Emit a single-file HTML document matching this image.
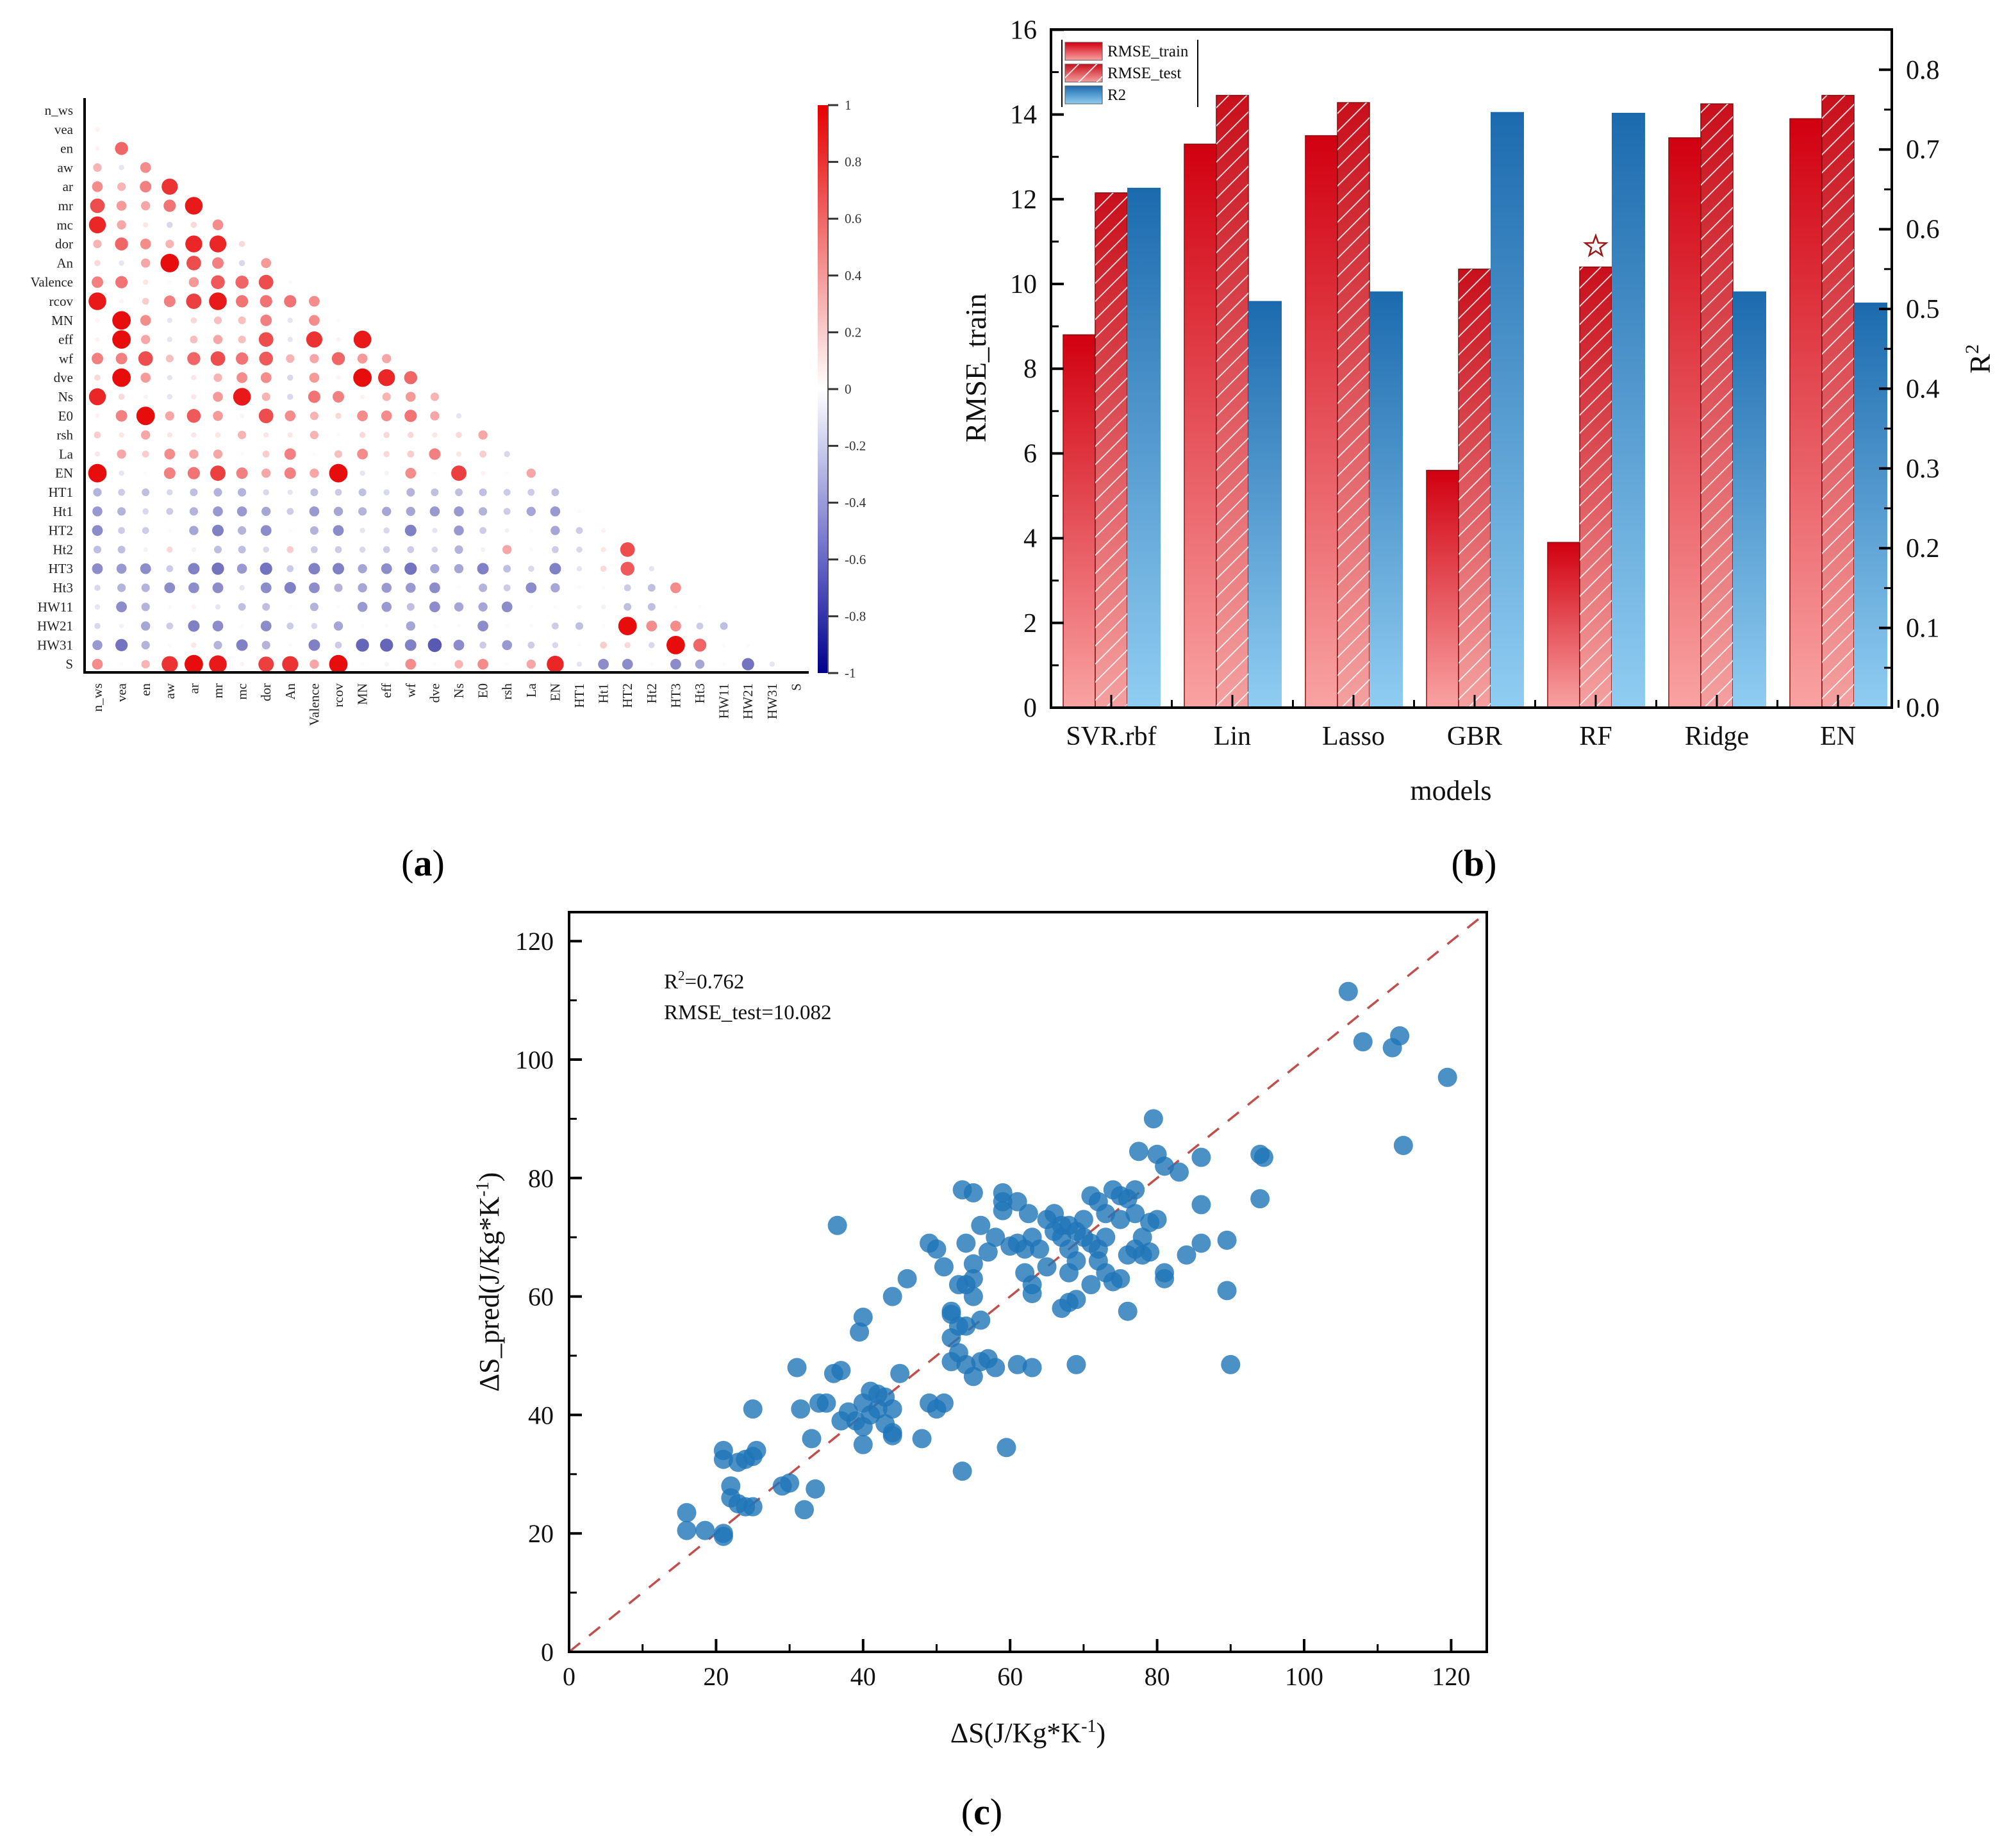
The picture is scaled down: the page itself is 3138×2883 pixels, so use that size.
<!DOCTYPE html>
<html><head><meta charset="utf-8"><style>
html,body{margin:0;padding:0;background:#fff;}
svg{display:block;font-family:"Liberation Serif",serif;}
</style></head><body>
<svg id="fig" xmlns="http://www.w3.org/2000/svg" width="3138" height="2883" viewBox="0 0 3138 2883">
<defs>
<linearGradient id="gTrain" x1="0" y1="0" x2="0" y2="1"><stop offset="0" stop-color="#d10010"/><stop offset="1" stop-color="#f9a3a3"/></linearGradient>
<linearGradient id="gTest" x1="0" y1="0" x2="0" y2="1"><stop offset="0" stop-color="#c8101c"/><stop offset="1" stop-color="#f4a0a0"/></linearGradient>
<linearGradient id="gR2" x1="0" y1="0" x2="0" y2="1"><stop offset="0" stop-color="#1c6aae"/><stop offset="1" stop-color="#90cdf2"/></linearGradient>
<linearGradient id="gCbar" x1="0" y1="0" x2="0" y2="1"><stop offset="0" stop-color="#e60000"/><stop offset="0.5" stop-color="#ffffff"/><stop offset="0.8" stop-color="#6868c8"/><stop offset="1" stop-color="#00008b"/></linearGradient>
<pattern id="hatch" patternUnits="userSpaceOnUse" width="20" height="20" patternTransform="rotate(45)">
<line x1="0" y1="0" x2="0" y2="20" stroke="#ffffff" stroke-width="3.5" opacity="0.9"/>
</pattern>
</defs>
<g id="panelA"></g>
<g id="panelB"></g>
<g id="panelC"></g>
<text x="660" y="1366" font-size="58" text-anchor="middle">(<tspan font-weight="bold">a</tspan>)</text>
<text x="2300" y="1366" font-size="58" text-anchor="middle">(<tspan font-weight="bold">b</tspan>)</text>
<text x="1532" y="2846" font-size="58" text-anchor="middle">(<tspan font-weight="bold">c</tspan>)</text>
</svg>
<script>
const NS = "http://www.w3.org/2000/svg";
function mk(parent, tag, attrs, text) {
  const e = document.createElementNS(NS, tag);
  for (const k in attrs) e.setAttribute(k, attrs[k]);
  if (text !== undefined) e.textContent = text;
  parent.appendChild(e);
  return e;
}

/* ---------- Panel A data ---------- */
const varNames = ['n_ws','vea','en','aw','ar','mr','mc','dor','An','Valence','rcov','MN','eff','wf','dve','Ns','E0','rsh','La','EN','HT1','Ht1','HT2','Ht2','HT3','Ht3','HW11','HW21','HW31','S'];
const corrRows = [
 [],
 [0.05],
 [0.05,0.6],
 [0.3,-0.1,0.45],
 [0.45,0.3,0.5,0.8],
 [0.7,0.4,0.35,0.55,0.9],
 [0.85,0.35,0.1,-0.15,0.15,0.45],
 [0.3,0.6,0.45,0.3,0.85,0.85,0.15],
 [0.15,-0.1,0.35,0.95,0.7,0.5,-0.15,0.4],
 [0.5,0.55,0.1,0.02,0.4,0.65,0.6,0.7,0.02],
 [0.9,0.05,0.2,0.5,0.75,0.9,0.55,0.55,0.55,0.45],
 [0.05,0.95,0.45,-0.1,0.15,0.25,0.25,0.5,-0.1,0.45,0.02],
 [0.05,0.95,0.35,-0.1,0.25,0.35,0.25,0.7,-0.1,0.8,0.05,0.9],
 [0.5,0.5,0.7,0.25,0.6,0.7,0.55,0.65,0.3,0.35,0.6,0.4,0.35],
 [0.15,0.95,0.4,-0.1,0.1,0.3,0.45,0.45,-0.15,0.4,0.05,0.95,0.85,0.6],
 [0.85,0.15,0.05,-0.1,0.1,0.4,0.9,0.3,-0.15,0.55,0.5,0.05,0.3,0.4,0.3],
 [0.05,0.5,0.95,0.35,0.65,0.4,0.05,0.7,0.45,0.3,0.15,0.45,0.45,0.55,0.35,-0.1],
 [0.2,0.1,0.35,0.1,0.1,0.1,0.3,0.1,0.1,0.3,0.02,0.15,0.15,0.15,0.1,0.15,0.35],
 [0.1,0.35,0.2,0.45,0.35,0.35,0.02,0.2,0.5,0.02,0.25,0.45,0.15,0.2,0.5,0.1,0.2,-0.15],
 [0.95,-0.1,0.02,0.5,0.55,0.75,0.5,0.35,0.5,0.35,0.95,-0.1,0.05,0.45,0.02,0.75,0.05,0.02,0.35],
 [-0.3,-0.2,-0.25,-0.15,-0.25,-0.3,-0.3,-0.15,-0.1,-0.25,-0.2,-0.25,-0.15,-0.3,-0.25,-0.25,-0.25,-0.2,-0.2,-0.25],
 [-0.4,-0.3,-0.15,-0.2,-0.3,-0.4,-0.4,-0.35,-0.2,-0.4,-0.35,-0.3,-0.35,-0.35,-0.4,-0.4,-0.3,-0.2,-0.35,-0.4,0.02],
 [-0.45,-0.2,-0.2,0.02,-0.35,-0.5,-0.3,-0.45,0.02,-0.3,-0.45,-0.1,-0.15,-0.5,-0.1,-0.4,-0.2,-0.05,0.02,-0.35,-0.2,0.05],
 [-0.25,-0.25,-0.05,0.15,-0.05,-0.25,-0.25,-0.15,0.2,-0.2,-0.2,-0.15,-0.2,-0.2,-0.15,-0.3,-0.05,0.35,0.02,-0.2,-0.15,0.1,0.7],
 [-0.45,-0.4,-0.45,-0.2,-0.5,-0.55,-0.4,-0.55,-0.2,-0.5,-0.5,-0.35,-0.45,-0.55,-0.35,-0.35,-0.5,-0.25,-0.15,-0.5,-0.1,0.15,0.65,-0.1],
 [-0.15,-0.3,-0.3,-0.45,-0.45,-0.45,-0.1,-0.45,-0.5,-0.45,-0.3,-0.35,-0.4,-0.4,-0.45,0.02,-0.3,-0.2,-0.45,-0.35,0.02,0.02,-0.2,-0.25,0.45],
 [-0.1,-0.45,-0.3,0.02,0.05,-0.1,-0.25,-0.25,0.02,-0.3,0.02,-0.4,-0.4,-0.25,-0.45,-0.35,-0.35,-0.45,0.02,0.02,-0.05,-0.05,-0.25,-0.25,0.02,0.02],
 [-0.15,-0.05,-0.35,-0.2,-0.5,-0.45,0.02,-0.45,-0.2,-0.15,-0.35,0.02,0.02,-0.35,0.02,0.02,-0.45,0.02,0.02,-0.2,-0.25,0.02,0.95,0.45,0.45,-0.2,-0.25],
 [-0.4,-0.55,-0.3,0.02,0.1,-0.3,-0.5,-0.3,0.02,-0.5,-0.2,-0.6,-0.6,-0.5,-0.65,-0.45,-0.2,-0.4,-0.2,-0.15,0.02,0.2,0.15,-0.15,0.95,0.6,0.02,0.02],
 [0.45,0.02,0.3,0.8,0.95,0.9,0.05,0.75,0.8,0.35,0.95,0.02,0.05,0.45,0.02,0.3,0.45,0.02,0.35,0.85,-0.1,-0.45,-0.45,0.02,-0.45,-0.35,0.02,-0.55,-0.1]
];
const cbarTicks = [1,0.8,0.6,0.4,0.2,0,-0.2,-0.4,-0.6,-0.8,-1];

/* ---------- Panel B data ---------- */
const models = ['SVR.rbf','Lin','Lasso','GBR','RF','Ridge','EN'];
const rmseTrain = [8.8,13.3,13.5,5.6,3.9,13.45,13.9];
const rmseTest = [12.15,14.45,14.28,10.35,10.4,14.25,14.45];
const r2Vals = [0.652,0.51,0.522,0.747,0.746,0.522,0.508];
const leftTicks = [0,2,4,6,8,10,12,14,16];
const rightTicks = [0.0,0.1,0.2,0.3,0.4,0.5,0.6,0.7,0.8];

/* ---------- Panel C data ---------- */
const trueVals = [106,108,112,113,113.5,119.5,94,94.5,94,89.5,89.5,90,79.5,80,86,83,81,77.5,86,84,86,81,81,79,76,80,
53.5,55,59,59,61,62.5,65,66,67,68,69,70,71,72,73,74,75,76,77,77,78,75,73,72,71,70,69,68,68,67,66,64,63,62,61,60,62,63,63,65,67,68,69,71,72,73,74,75,76,77,78,79,
56,57,58,59,55,54,55,55,56,54,53,52,52,53,54,52,53,52,54,55,56,57,58,61,63,69,59.5,53.5,
50,51,49,49,50,51,48,46,44,45,
40,39.5,41,42,40,41,42,43,44,43,40,39,38,37,36,37,36.5,40,44,44,34,35,33,33.5,32,
31,31.5,29,30,25,24,25,25.5,23,22,21,21,22,23,24,25,21,16,16,18.5,21];
const predVals = [111.5,103,102,104,85.5,97,84,83.5,76.5,69.5,61,48.5,90,84,83.5,81,82,84.5,75.5,67,69,63,64,72.5,57.5,73,
78,77.5,77.5,76,76,74,73,74,72,72,71,73,77,76,74,78,77,76.5,78,74,70,73,70,68,69,70,66,64,68,70,71,68,70,68,69,68.5,64,62,60.5,65,58,59,59.5,62,66,64,62.5,63,67,68,67,67.5,
72,67.5,70,74.5,65.5,69,60,63,56,62,62,57.5,57,55,55,53,50.5,49,48.5,46.5,49,49.5,48,48.5,48,48.5,34.5,30.5,
68,65,69,42,41,42,36,63,60,47,
56.5,54,44,43.5,42,40,41,43,41,38.5,38,39,40.5,39,47,47.5,72,35,37,36.5,42,42,36,27.5,24,
48,41,28,28.5,41,32.5,33,34,32,28,32.5,34,26,25,24.5,24.5,20,23.5,20.5,20.5,19.5];
const xTicksC = [0,20,40,60,80,100,120];
const yTicksC = [0,20,40,60,80,100,120];

/* ================= Panel A ================= */
(function(){
  const g = document.getElementById('panelA');
  const colX = j => 152 + j*37.6;
  const rowY = i => 172 + i*29.8;
  function colorOf(r){
    if (r >= 0) { const t=Math.min(1,r); return `rgb(${Math.round(255-25*t)},${Math.round(255*(1-t))},${Math.round(255*(1-t))})`; }
    const t=Math.min(1,-r); return `rgb(${Math.round(255*(1-t))},${Math.round(255*(1-t))},${Math.round(255-116*t)})`;
  }
  for (let i=0;i<corrRows.length;i++){
    const lab = mk(g,'text',{x:114,y:rowY(i)+7,'font-size':21,'text-anchor':'end',fill:'#222'},varNames[i]);
    
    
    for (let j=0;j<corrRows[i].length;j++){
      const r = corrRows[i][j];
      const c = mk(g,'circle',{cx:colX(j),cy:rowY(i),r:3+12*Math.abs(r),fill:colorOf(r)});
      
      
    }
  }
  for (let j=0;j<varNames.length;j++){
    const t = mk(g,'text',{x:0,y:0,'font-size':21,'text-anchor':'end',fill:'#222',transform:`translate(${colX(j)+7},1066) rotate(-90)`},varNames[j]);
    
    
  }
  const ax = mk(g,'path',{d:'M132 153 L132 1049 L1262 1049',fill:'none',stroke:'#000','stroke-width':4});
  
  
  const cb = mk(g,'rect',{x:1276,y:164,width:16,height:886,fill:'url(#gCbar)'});
  
  
  const cbl = mk(g,'line',{x1:1292,y1:164,x2:1292,y2:1050,stroke:'#555','stroke-width':2});
  
  
  cbarTicks.forEach(v=>{
    const y = 164 + (1-v)/2*886;
    const tk = mk(g,'line',{x1:1292,y1:y,x2:1308,y2:y,stroke:'#333','stroke-width':3});
    
    
    const tl = mk(g,'text',{x:1318,y:y+7,'font-size':21,fill:'#333'},String(v));
    
    
  });
})();

/* ================= Panel B ================= */
(function(){
  const g = document.getElementById('panelB');
  const L=1640, R=2952, T=46, B=1104;
  const yL = v => B - v*66.1;
  const yR = v => B - v*1244;
  const cx = i => 1734 + i*189;
  const bw = 50;
  for (let i=0;i<models.length;i++){
    const x0 = cx(i)-75;
    const b1 = mk(g,'rect',{x:x0,y:yL(rmseTrain[i]),width:bw,height:B-yL(rmseTrain[i]),fill:'url(#gTrain)',stroke:'#8a1010','stroke-width':1.5});
    
    
    const b2 = mk(g,'rect',{x:x0+bw,y:yL(rmseTest[i]),width:bw,height:B-yL(rmseTest[i]),fill:'url(#gTest)',stroke:'#7a1010','stroke-width':1.5});
    
    
    const h2 = mk(g,'rect',{x:x0+bw,y:yL(rmseTest[i]),width:bw,height:B-yL(rmseTest[i]),fill:'url(#hatch)'});
    
    
    const b3 = mk(g,'rect',{x:x0+2*bw,y:yR(r2Vals[i]),width:bw+2,height:B-yR(r2Vals[i]),fill:'url(#gR2)'});
    
    
    const xl = mk(g,'text',{x:cx(i),y:1162,'font-size':42,'text-anchor':'middle',fill:'#111'},models[i]);
    
    
    const tk = mk(g,'line',{x1:cx(i),y1:B,x2:cx(i),y2:B-20,stroke:'#000','stroke-width':3});
    
    
    const tm = mk(g,'line',{x1:cx(i)+94.5,y1:B,x2:cx(i)+94.5,y2:B-12,stroke:'#000','stroke-width':3});
    
    
  }
  // star over best model test bar
  const sx = cx(4), sy = yL(rmseTest[4]) - 32;
  let pts=[];
  for (let k=0;k<10;k++){ const a=-Math.PI/2+k*Math.PI/5; const rr=k%2?7:17; pts.push((sx+rr*Math.cos(a)).toFixed(1)+','+(sy+rr*Math.sin(a)).toFixed(1)); }
  const st = mk(g,'polygon',{points:pts.join(' '),fill:'none',stroke:'#9a1818','stroke-width':2.5});
  
  
  const fr = mk(g,'rect',{x:L,y:T,width:R-L,height:B-T,fill:'none',stroke:'#000','stroke-width':4});
  
  
  leftTicks.forEach(v=>{
    const y=yL(v);
    const t = mk(g,'line',{x1:L,y1:y,x2:L+20,y2:y,stroke:'#000','stroke-width':4});
    
    
    if (v<16){ const m = mk(g,'line',{x1:L,y1:yL(v+1),x2:L+12,y2:yL(v+1),stroke:'#000','stroke-width':3});
      
       }
    const tl = mk(g,'text',{x:L-22,y:y+14,'font-size':42,'text-anchor':'end',fill:'#111'},String(v));
    
    
  });
  rightTicks.forEach(v=>{
    const y=yR(v);
    const t = mk(g,'line',{x1:R,y1:y,x2:R-20,y2:y,stroke:'#000','stroke-width':4});
    
    
    const m = mk(g,'line',{x1:R,y1:yR(v+0.05),x2:R-12,y2:yR(v+0.05),stroke:'#000','stroke-width':3});
    
    
    const tl = mk(g,'text',{x:R+22,y:y+14,'font-size':42,fill:'#111'},v.toFixed(1));
    
    
  });
  const yt = mk(g,'text',{x:0,y:0,'font-size':46,'text-anchor':'middle',fill:'#111',transform:'translate(1538,574) rotate(-90)'},'RMSE_train');
  
  
  const rt = mk(g,'text',{x:0,y:0,'font-size':46,'text-anchor':'middle',fill:'#111',transform:'translate(3105,560) rotate(-90)'});
  
  
  mk(rt,'tspan',{},'R');
  mk(rt,'tspan',{dy:-18,'font-size':30},'2');
  const xt = mk(g,'text',{x:2264,y:1248,'font-size':44,'text-anchor':'middle',fill:'#111'},'models');
  
  
  // legend
  const lg = mk(g,'g',{});
  
  
  mk(lg,'line',{x1:1657,y1:62,x2:1657,y2:167,stroke:'#000','stroke-width':2});
  mk(lg,'line',{x1:1869,y1:62,x2:1869,y2:167,stroke:'#000','stroke-width':2});
  const lItems = [['RMSE_train','url(#gTrain)',false],['RMSE_test','url(#gTest)',true],['R2','url(#gR2)',false]];
  lItems.forEach((it,k)=>{
    const y = 66 + k*34;
    const e = mk(lg,'g',{});
    
    
    mk(e,'rect',{x:1662,y:y,width:58,height:28,fill:it[1],stroke:'#555','stroke-width':1});
    if (it[2]) mk(e,'rect',{x:1662,y:y,width:58,height:28,fill:'url(#hatch)'});
    mk(e,'text',{x:1728,y:y+22,'font-size':25,fill:'#111'},it[0]);
  });
})();

/* ================= Panel C ================= */
(function(){
  const g = document.getElementById('panelC');
  const L=888, R=2320, T=1423, B=2577;
  const sx = v => L + v*11.47;
  const sy = v => B - v*9.24;
  const dl = mk(g,'line',{x1:sx(0),y1:sy(0),x2:sx(124.8),y2:sy(124.8),stroke:'#c0504d','stroke-width':3.5,'stroke-dasharray':'22 18'});
  
  
  for (let i=0;i<trueVals.length;i++){
    const c = mk(g,'circle',{cx:sx(trueVals[i]),cy:sy(predVals[i]),r:15,fill:'#1f75b8','fill-opacity':0.8});
    
    
  }
  const fr = mk(g,'rect',{x:L,y:T,width:R-L,height:B-T,fill:'none',stroke:'#000','stroke-width':4});
  
  
  xTicksC.forEach(v=>{
    const t = mk(g,'line',{x1:sx(v),y1:B,x2:sx(v),y2:B-20,stroke:'#000','stroke-width':4});
    
    
    if (v<120){ const m = mk(g,'line',{x1:sx(v+10),y1:B,x2:sx(v+10),y2:B-12,stroke:'#000','stroke-width':3});
      
       }
    const tl = mk(g,'text',{x:sx(v),y:B+52,'font-size':40,'text-anchor':'middle',fill:'#111'},String(v));
    
    
  });
  yTicksC.forEach(v=>{
    const t = mk(g,'line',{x1:L,y1:sy(v),x2:L+20,y2:sy(v),stroke:'#000','stroke-width':4});
    
    
    if (v<120){ const m = mk(g,'line',{x1:L,y1:sy(v+10),x2:L+12,y2:sy(v+10),stroke:'#000','stroke-width':3});
      
       }
    const tl = mk(g,'text',{x:L-24,y:sy(v)+14,'font-size':40,'text-anchor':'end',fill:'#111'},String(v));
    
    
  });
  const a1 = mk(g,'text',{x:1036,y:1542,'font-size':33,fill:'#111'});
  
  
  mk(a1,'tspan',{},'R');
  mk(a1,'tspan',{dy:-13,'font-size':21},'2');
  mk(a1,'tspan',{dy:13},'=0.762');
  const a2 = mk(g,'text',{x:1036,y:1590,'font-size':33,fill:'#111'},'RMSE_test=10.082');
  
  
  const xt = mk(g,'text',{x:1604,y:2718,'font-size':44,'text-anchor':'middle',fill:'#111'});
  
  
  mk(xt,'tspan',{},'ΔS(J/Kg*K');
  mk(xt,'tspan',{dy:-16,'font-size':28},'-1');
  mk(xt,'tspan',{dy:16},')');
  const yt = mk(g,'text',{x:0,y:0,'font-size':44,'text-anchor':'middle',fill:'#111',transform:'translate(778,2000) rotate(-90)'});
  
  
  mk(yt,'tspan',{},'ΔS_pred(J/Kg*K');
  mk(yt,'tspan',{dy:-16,'font-size':28},'-1');
  mk(yt,'tspan',{dy:16},')');
})();
</script>
</body></html>
